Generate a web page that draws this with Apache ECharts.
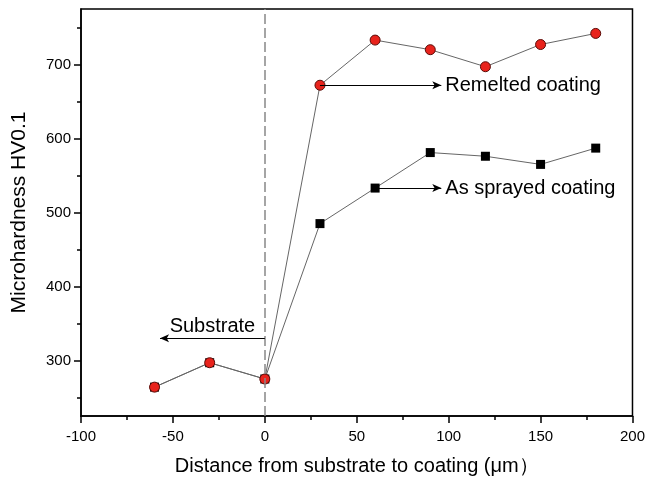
<!doctype html>
<html>
<head>
<meta charset="utf-8">
<title>Microhardness</title>
<script src="https://cdn.jsdelivr.net/npm/echarts@6/dist/echarts.min.js"></script>
<style>
  html, body { margin: 0; padding: 0; background: #fff; }
  #main { width: 648px; height: 482px; }
</style>
</head>
<body>
<div id="main"></div>
<script>
// distance (um) of each indent
var xValues = [-60, -30, 0, 30, 60, 90, 120, 150, 180];
// HV0.1 values
var remelted = [264, 297, 275, 672, 733, 720, 697, 727, 742];
var asSprayed = [264, 297, 275, 485, 533, 581, 576, 565, 587];
// y ticks
var yMajor = [300, 400, 500, 600, 700];
var yMinor = [250, 350, 450, 550, 650, 750];

var font = '"Liberation Sans", Arial, sans-serif';

function pairs(ys) {
  return xValues.map(function (x, i) { return [x, ys[i]]; });
}

var chart = echarts.init(document.getElementById('main'));

var arrowLine = {
  silent: true,
  symbol: ['none', 'arrow'],
  symbolSize: [6, 9],
  lineStyle: { color: '#000', width: 1, type: 'solid' },
  label: { show: true, position: 'end', distance: 4, color: '#000', fontSize: 20, fontFamily: font }
};

var option = {
  animation: false,
  backgroundColor: '#fff',
  grid: { left: 81, right: 13, top: 9, bottom: 66, show: true, borderColor: '#000', borderWidth: 1.5 },
  xAxis: {
    type: 'value',
    min: -100, max: 200, interval: 50,
    name: 'Distance from substrate to coating (μm）',
    nameLocation: 'middle',
    nameGap: 40,
    nameTextStyle: { fontSize: 20, color: '#000', fontFamily: font },
    axisLine: { onZero: false, lineStyle: { color: '#000', width: 1.5 } },
    axisTick: { inside: false, length: 7, lineStyle: { color: '#000', width: 1.5 } },
    minorTick: { show: true, splitNumber: 2, length: 4, lineStyle: { color: '#000', width: 1.5 } },
    axisLabel: { fontSize: 15, color: '#000', fontFamily: font, margin: 13 },
    splitLine: { show: false }
  },
  yAxis: [{
    type: 'value',
    min: 225, max: 775,
    name: 'Microhardness HV0.1',
    nameLocation: 'middle',
    nameGap: 51,
    nameTextStyle: { fontSize: 21, color: '#000', fontFamily: font },
    axisLine: { onZero: false, lineStyle: { color: '#000', width: 1.5 } },
    axisTick: { length: 7, customValues: yMajor, lineStyle: { color: '#000', width: 1.5 } },
    axisLabel: { fontSize: 15, color: '#000', fontFamily: font, margin: 10, customValues: yMajor },
    splitLine: { show: false }
  }, {
    type: 'value',
    min: 225, max: 775,
    position: 'left',
    axisLine: { show: false, onZero: false },
    axisTick: { show: true, length: 4, customValues: yMinor, lineStyle: { color: '#000', width: 1.5 } },
    axisLabel: { show: false },
    splitLine: { show: false }
  }],
  series: [{
    name: 'As sprayed coating',
    type: 'line',
    data: pairs(asSprayed),
    symbol: 'rect',
    symbolSize: 9,
    itemStyle: { color: '#000' },
    lineStyle: { color: '#666', width: 1 },
    z: 2,
    markLine: Object.assign({}, arrowLine, {
      data: [[{ coord: [60, 533] }, { coord: [96, 533], label: { formatter: 'As sprayed coating' } }]]
    })
  }, {
    name: 'Remelted coating',
    type: 'line',
    data: pairs(remelted),
    symbol: 'circle',
    symbolSize: 10,
    itemStyle: { color: '#e8231c', borderColor: '#5a0c08', borderWidth: 1 },
    lineStyle: { color: '#666', width: 1 },
    z: 3,
    markLine: Object.assign({}, arrowLine, {
      data: [[{ coord: [30, 672] }, { coord: [96, 672], label: { formatter: 'Remelted coating' } }]]
    })
  }, {
    // dashed boundary and substrate arrow
    type: 'line',
    data: [],
    z: 1,
    markLine: {
      silent: true,
      symbol: 'none',
      label: { show: false },
      lineStyle: { color: '#888', width: 1.5, type: [10, 4] },
      data: [
        { xAxis: 0 },
        [{
          coord: [-57, 330], symbol: 'arrow', symbolSize: [6, 9],
          lineStyle: { color: '#000', width: 1, type: 'solid' },
          label: { show: true, position: 'insideMiddleTop', formatter: 'Substrate', color: '#000', fontSize: 20, fontFamily: font, distance: 2 }
        }, { coord: [0, 330], symbol: 'none' }]
      ]
    }
  }]
};

chart.setOption(option);
</script>
</body>
</html>
